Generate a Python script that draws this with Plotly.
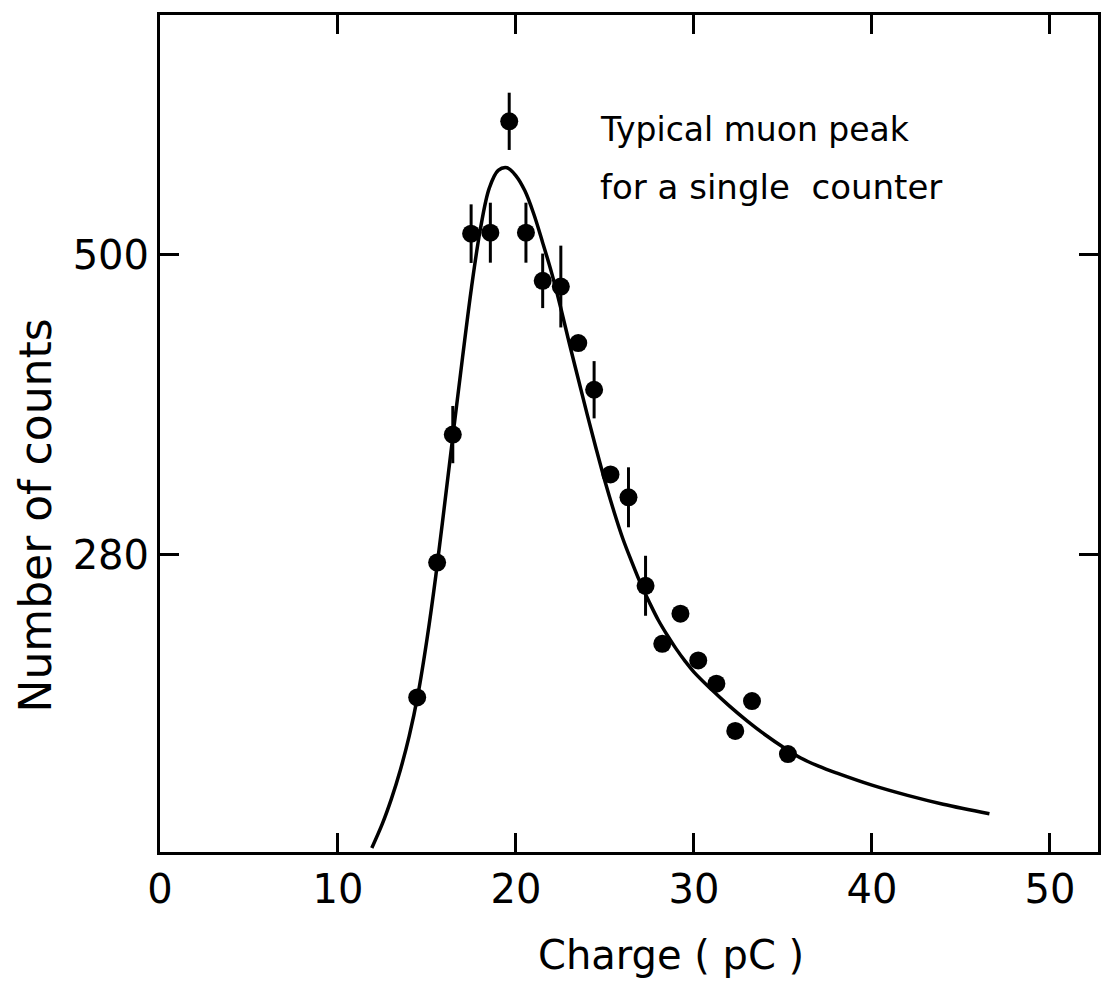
import plotly.graph_objects as go

# Measured data points (charge in pC, counts)
charge = [14.45, 15.57, 16.45, 17.48, 18.56, 19.62, 20.56, 21.50, 22.52, 23.50,
          24.39, 25.31, 26.32, 27.28, 28.22, 29.24, 30.24, 31.26, 32.32, 33.26, 35.28]
counts = [175.4, 274.3, 368.2, 515.6, 516.3, 598.0, 516.3, 481.0, 476.8, 435.3,
          401.1, 339.0, 322.2, 257.3, 214.7, 236.8, 202.5, 185.5, 150.8, 172.7, 133.8]
errors = [0, 0, 21, 21.5, 22, 21, 22, 20, 30, 0,
          21, 0, 22, 22, 0, 0, 0, 0, 0, 0, 0]

# Fitted curve
curve_x = [11.9, 12.5, 13.0, 13.5, 14.0, 14.5, 15.0, 15.5, 16.0, 16.5, 17.0, 17.5,
           18.0, 18.5, 19.0, 19.5, 20.0, 20.5, 21.0, 21.5, 22.0, 22.5, 23.0, 23.5,
           24.0, 24.5, 25.0, 25.5, 26.0, 26.5, 27.0, 27.5, 28.0, 28.5, 29.0, 29.5,
           30.0, 31.0, 32.0, 33.0, 34.0, 35.0, 36.0, 37.0, 38.0, 40.0, 42.0, 44.0, 46.6]
curve_y = [65, 83, 101, 122, 147, 178, 218, 265, 318, 372, 425, 476,
           519, 549, 562, 564, 558, 547, 530, 509, 487, 462, 435, 409,
           383, 358, 334, 312, 292, 275, 259, 245, 232, 221, 211, 202,
           194, 181, 169, 158, 148, 139, 131, 125, 120, 111, 103.5, 97, 90]

x_ticks = [0, 10, 20, 30, 40, 50]
y_ticks = [280, 500]

FONT = "DejaVu Sans"

fig = go.Figure()
fig.add_trace(go.Scatter(
    x=curve_x, y=curve_y, mode="lines",
    line=dict(color="black", width=3.5, shape="spline", smoothing=1.0),
    hoverinfo="skip", showlegend=False))
fig.add_trace(go.Scatter(
    x=charge, y=counts, mode="markers",
    marker=dict(color="black", size=18),
    error_y=dict(type="data", array=errors, symmetric=True, color="black",
                 thickness=3, width=0),
    showlegend=False))

axis_common = dict(showline=True, linecolor="black", linewidth=3, mirror="ticks",
                   ticks="inside", ticklen=19, tickwidth=3, tickcolor="black",
                   showgrid=False, zeroline=False,
                   tickfont=dict(family=FONT, size=40, color="black"))

fig.update_xaxes(range=[0, 52.7], tickvals=x_ticks, ticktext=[str(v) for v in x_ticks],
                 ticklabelstandoff=0, **axis_common)
fig.update_yaxes(range=[62, 676], tickvals=y_ticks, ticktext=[str(v) for v in y_ticks],
                 **axis_common)

fig.add_annotation(x=24.6, y=592, xref="x", yref="y", text="Typical muon peak",
                   showarrow=False, xanchor="left", yanchor="middle",
                   font=dict(family=FONT, size=33, color="black"))
fig.add_annotation(x=24.6, y=550, xref="x", yref="y", text="for a single  counter",
                   showarrow=False, xanchor="left", yanchor="middle",
                   font=dict(family=FONT, size=34, color="black"))
fig.add_annotation(x=28.7, y=-0.123, xref="x", yref="paper", text="Charge ( pC )",
                   showarrow=False, xanchor="center", yanchor="middle",
                   font=dict(family=FONT, size=40, color="black"))
fig.add_annotation(x=-0.133, y=309, xref="paper", yref="y", text="Number of counts",
                   showarrow=False, textangle=-90, xanchor="center", yanchor="middle",
                   font=dict(family=FONT, size=44, color="black"))

fig.update_layout(width=1113, height=986,
                  margin=dict(l=160, r=13, t=13, b=134),
                  paper_bgcolor="white", plot_bgcolor="white")

fig.write_html("out.html")
